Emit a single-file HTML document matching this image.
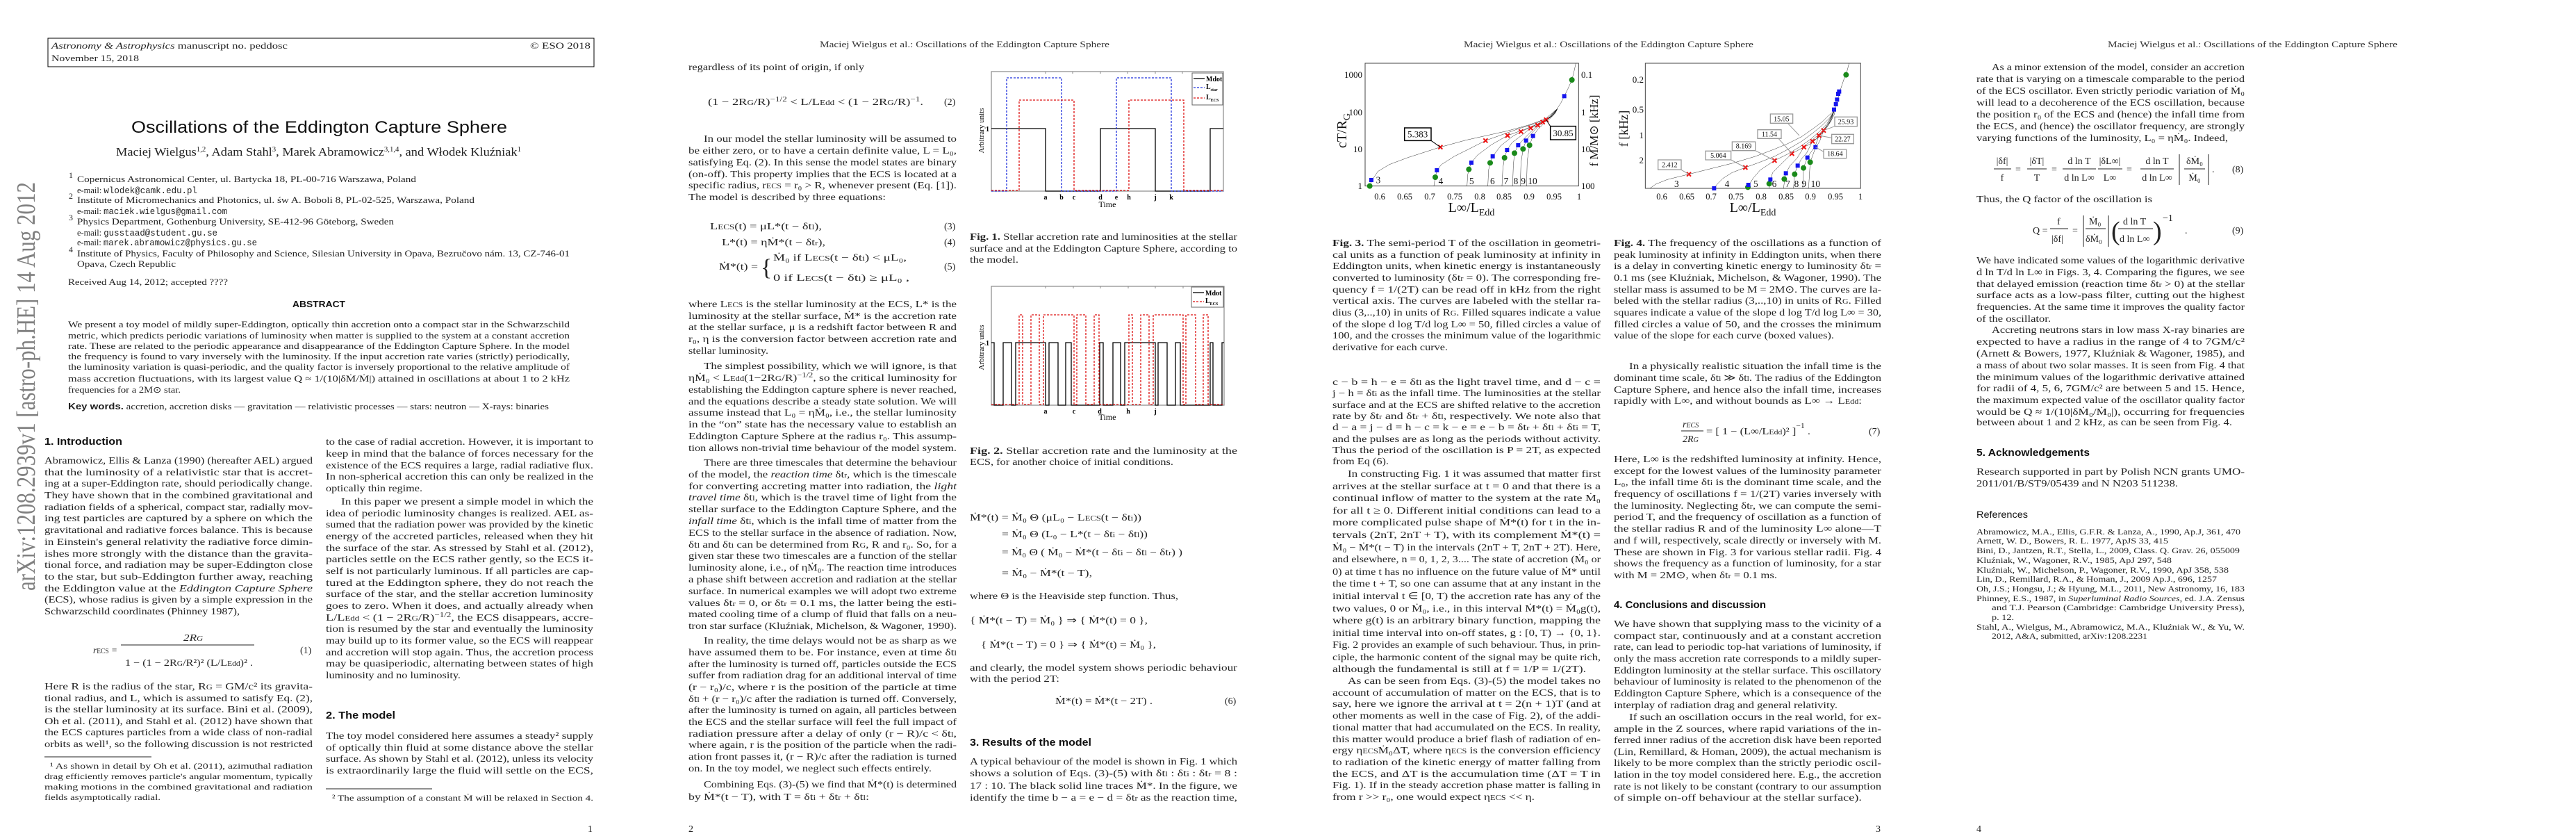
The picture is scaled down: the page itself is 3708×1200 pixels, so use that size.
<!DOCTYPE html>
<html><head><meta charset="utf-8"><style>
html,body{margin:0;padding:0;background:#fff;}
svg{display:block;}
.t{font-family:"Liberation Serif",serif;font-size:14px;fill:#222;}
.s{font-family:"Liberation Serif",serif;font-size:12.5px;fill:#222;}
.f{font-family:"Liberation Serif",serif;font-size:12px;fill:#222;}
.h{font-family:"Liberation Sans",sans-serif;font-size:15px;font-weight:bold;fill:#111;}
.rh{font-family:"Liberation Serif",serif;font-size:13px;fill:#333;}
.ax{font-family:"Liberation Serif",serif;fill:#111;}
.ln{fill:none;stroke:#000;stroke-width:1.2;vector-effect:non-scaling-stroke;}
</style></head><body>
<svg width="3708" height="1200" viewBox="0 0 3708 1200" xmlns="http://www.w3.org/2000/svg">
<rect width="3708" height="1200" fill="#fff"/>

<!-- ================= PAGE 1 ================= -->
<g>
<rect x="69" y="55" width="786" height="41" fill="none" stroke="#000" stroke-width="1"/>
<text class="s" x="74" y="70" textLength="340" lengthAdjust="spacingAndGlyphs"><tspan font-style="italic">Astronomy &amp; Astrophysics</tspan> manuscript no. peddosc</text>
<text class="s" x="763" y="70" textLength="87" lengthAdjust="spacingAndGlyphs">© ESO 2018</text>
<text class="s" x="74" y="88" textLength="126" lengthAdjust="spacingAndGlyphs">November 15, 2018</text>
<text x="189" y="191" textLength="541" lengthAdjust="spacingAndGlyphs" style="font-family:'Liberation Sans',sans-serif;font-size:24px;fill:#111">Oscillations of the Eddington Capture Sphere</text>
<text x="167" y="224" textLength="583" lengthAdjust="spacingAndGlyphs" style="font-family:'Liberation Serif',serif;font-size:17px;fill:#222">Maciej Wielgus<tspan font-size="10" dy="-6">1,2</tspan><tspan dy="6">, Adam Stahl</tspan><tspan font-size="10" dy="-6">3</tspan><tspan dy="6">, Marek Abramowicz</tspan><tspan font-size="10" dy="-6">3,1,4</tspan><tspan dy="6">, and Włodek Kluźniak</tspan><tspan font-size="10" dy="-6">1</tspan></text>
<text class="f" font-size="9" x="99" y="256">1</text>
<text class="s" x="111" y="262" textLength="488" lengthAdjust="spacingAndGlyphs">Copernicus Astronomical Center, ul. Bartycka 18, PL-00-716 Warszawa, Poland</text>
<text class="s" x="111" y="278" textLength="173" lengthAdjust="spacingAndGlyphs">e-mail: <tspan font-family="Liberation Mono">wlodek@camk.edu.pl</tspan></text>
<text class="f" font-size="9" x="99" y="286">2</text>
<text class="s" x="111" y="292" textLength="572" lengthAdjust="spacingAndGlyphs">Institute of Micromechanics and Photonics, ul. św A. Boboli 8, PL-02-525, Warszawa, Poland</text>
<text class="s" x="111" y="308" textLength="216" lengthAdjust="spacingAndGlyphs">e-mail: <tspan font-family="Liberation Mono">maciek.wielgus@gmail.com</tspan></text>
<text class="f" font-size="9" x="99" y="317">3</text>
<text class="s" x="111" y="323" textLength="456" lengthAdjust="spacingAndGlyphs">Physics Department, Gothenburg University, SE-412-96 Göteborg, Sweden</text>
<text class="s" x="111" y="339" textLength="202" lengthAdjust="spacingAndGlyphs">e-mail: <tspan font-family="Liberation Mono">gusstaad@student.gu.se</tspan></text>
<text class="s" x="111" y="353" textLength="259" lengthAdjust="spacingAndGlyphs">e-mail: <tspan font-family="Liberation Mono">marek.abramowicz@physics.gu.se</tspan></text>
<text class="f" font-size="9" x="99" y="363">4</text>
<text class="s" x="111" y="369" textLength="709" lengthAdjust="spacingAndGlyphs">Institute of Physics, Faculty of Philosophy and Science, Silesian University in Opava, Bezručovo nám. 13, CZ-746-01</text>
<text class="s" x="111" y="384" textLength="142" lengthAdjust="spacingAndGlyphs">Opava, Czech Republic</text>
<text class="s" x="98" y="410" textLength="230" lengthAdjust="spacingAndGlyphs">Received Aug 14, 2012; accepted ????</text>
<text x="421" y="442" textLength="76" lengthAdjust="spacingAndGlyphs" style="font-family:'Liberation Sans',sans-serif;font-size:13px;font-weight:bold;fill:#111">ABSTRACT</text>
<text class="s" x="98" y="471" textLength="722" lengthAdjust="spacingAndGlyphs">We present a toy model of mildly super-Eddington, optically thin accretion onto a compact star in the Schwarzschild</text>
<text class="s" x="98" y="487" textLength="722" lengthAdjust="spacingAndGlyphs">metric, which predicts periodic variations of luminosity when matter is supplied to the system at a constant accretion</text>
<text class="s" x="98" y="502" textLength="722" lengthAdjust="spacingAndGlyphs">rate. These are related to the periodic appearance and disappearance of the Eddington Capture Sphere. In the model</text>
<text class="s" x="98" y="517" textLength="722" lengthAdjust="spacingAndGlyphs">the frequency is found to vary inversely with the luminosity. If the input accretion rate varies (strictly) periodically,</text>
<text class="s" x="98" y="532" textLength="722" lengthAdjust="spacingAndGlyphs">the luminosity variation is quasi-periodic, and the quality factor is inversely proportional to the relative amplitude of</text>
<text class="s" x="98" y="549" textLength="722" lengthAdjust="spacingAndGlyphs">mass accretion fluctuations, with its largest value Q ≈ 1/(10|δṀ/Ṁ|) attained in oscillations at about 1 to 2 kHz</text>
<text class="s" x="98" y="565" textLength="162" lengthAdjust="spacingAndGlyphs">frequencies for a 2M⊙ star.</text>
<text class="s" x="98" y="589" textLength="692" lengthAdjust="spacingAndGlyphs"><tspan font-family="Liberation Sans" font-weight="bold">Key words.</tspan> accretion, accretion disks — gravitation — relativistic processes — stars: neutron — X-rays: binaries</text>

<text x="50" y="850" transform="rotate(-90 50 850)" textLength="588" lengthAdjust="spacingAndGlyphs" style="font-family:'Liberation Serif',serif;font-size:38px;fill:#808080">arXiv:1208.2939v1  [astro-ph.HE]  14 Aug 2012</text>

<text class="h" x="64" y="640" textLength="112" lengthAdjust="spacingAndGlyphs">1. Introduction</text>
<text class="t" x="64" y="667" textLength="386" lengthAdjust="spacingAndGlyphs">Abramowicz, Ellis &amp; Lanza (1990) (hereafter AEL) argued</text>
<text class="t" x="64" y="684" textLength="386" lengthAdjust="spacingAndGlyphs">that the luminosity of a relativistic star that is accret-</text>
<text class="t" x="64" y="700" textLength="386" lengthAdjust="spacingAndGlyphs">ing at a super-Eddington rate, should periodically change.</text>
<text class="t" x="64" y="717" textLength="386" lengthAdjust="spacingAndGlyphs">They have shown that in the combined gravitational and</text>
<text class="t" x="64" y="734" textLength="386" lengthAdjust="spacingAndGlyphs">radiation fields of a spherical, compact star, radially mov-</text>
<text class="t" x="64" y="750" textLength="386" lengthAdjust="spacingAndGlyphs">ing test particles are captured by a sphere on which the</text>
<text class="t" x="64" y="767" textLength="386" lengthAdjust="spacingAndGlyphs">gravitational and radiative forces balance. This is because</text>
<text class="t" x="64" y="784" textLength="386" lengthAdjust="spacingAndGlyphs">in Einstein's general relativity the radiative force dimin-</text>
<text class="t" x="64" y="801" textLength="386" lengthAdjust="spacingAndGlyphs">ishes more strongly with the distance than the gravita-</text>
<text class="t" x="64" y="817" textLength="386" lengthAdjust="spacingAndGlyphs">tional force, and radiation may be super-Eddington close</text>
<text class="t" x="64" y="834" textLength="386" lengthAdjust="spacingAndGlyphs">to the star, but sub-Eddington further away, reaching</text>
<text class="t" x="64" y="851" textLength="386" lengthAdjust="spacingAndGlyphs">the Eddington value at the <tspan font-style="italic">Eddington Capture Sphere</tspan></text>
<text class="t" x="64" y="867" textLength="386" lengthAdjust="spacingAndGlyphs">(ECS), whose radius is given by a simple expression in the</text>
<text class="t" x="64" y="884" textLength="281" lengthAdjust="spacingAndGlyphs">Schwarzschild coordinates (Phinney 1987),</text>
<text class="t" x="134" y="940" textLength="35" lengthAdjust="spacingAndGlyphs" font-style="italic">r<tspan font-size="10" font-style="normal">ECS</tspan> =</text>
<text class="t" x="264" y="922" textLength="28" lengthAdjust="spacingAndGlyphs" font-style="italic">2R<tspan font-size="10">G</tspan></text>
<line x1="174" y1="928" x2="366" y2="928" stroke="#222" stroke-width="1"/>
<text class="t" x="180" y="958" textLength="184" lengthAdjust="spacingAndGlyphs">1 − (1 − 2R<tspan font-size="10">G</tspan>/R²)² (L/L<tspan font-size="10">Edd</tspan>)² .</text>
<text class="t" x="432" y="940">(1)</text>
<text class="t" x="64" y="992" textLength="386" lengthAdjust="spacingAndGlyphs">Here R is the radius of the star, R<tspan font-size="10">G</tspan> = GM/c² its gravita-</text>
<text class="t" x="64" y="1009" textLength="386" lengthAdjust="spacingAndGlyphs">tional radius, and L, which is assumed to satisfy Eq. (2),</text>
<text class="t" x="64" y="1025" textLength="386" lengthAdjust="spacingAndGlyphs">is the stellar luminosity at its surface. Bini et al. (2009),</text>
<text class="t" x="64" y="1042" textLength="386" lengthAdjust="spacingAndGlyphs">Oh et al. (2011), and Stahl et al. (2012) have shown that</text>
<text class="t" x="64" y="1058" textLength="386" lengthAdjust="spacingAndGlyphs">the ECS captures particles from a wide class of non-radial</text>
<text class="t" x="64" y="1075" textLength="386" lengthAdjust="spacingAndGlyphs">orbits as well¹, so the following discussion is not restricted</text>
<line x1="64" y1="1089" x2="218" y2="1089" stroke="#222" stroke-width="1"/>
<text class="f" x="72" y="1106" textLength="378" lengthAdjust="spacingAndGlyphs">¹  As shown in detail by Oh et al. (2011), azimuthal radiation</text>
<text class="f" x="64" y="1121" textLength="386" lengthAdjust="spacingAndGlyphs">drag efficiently removes particle's angular momentum, typically</text>
<text class="f" x="64" y="1136" textLength="386" lengthAdjust="spacingAndGlyphs">making motions in the combined gravitational and radiation</text>
<text class="f" x="64" y="1151" textLength="167" lengthAdjust="spacingAndGlyphs">fields asymptotically radial.</text>

<text class="t" x="469" y="640" textLength="385" lengthAdjust="spacingAndGlyphs">to the case of radial accretion. However, it is important to</text>
<text class="t" x="469" y="657" textLength="385" lengthAdjust="spacingAndGlyphs">keep in mind that the balance of forces necessary for the</text>
<text class="t" x="469" y="674" textLength="385" lengthAdjust="spacingAndGlyphs">existence of the ECS requires a large, radial radiative flux.</text>
<text class="t" x="469" y="690" textLength="385" lengthAdjust="spacingAndGlyphs">In non-spherical accretion this can only be realized in the</text>
<text class="t" x="469" y="707" textLength="139" lengthAdjust="spacingAndGlyphs">optically thin regime.</text>
<text class="t" x="491" y="726" textLength="363" lengthAdjust="spacingAndGlyphs">In this paper we present a simple model in which the</text>
<text class="t" x="469" y="743" textLength="385" lengthAdjust="spacingAndGlyphs">idea of periodic luminosity changes is realized. AEL as-</text>
<text class="t" x="469" y="759" textLength="385" lengthAdjust="spacingAndGlyphs">sumed that the radiation power was provided by the kinetic</text>
<text class="t" x="469" y="776" textLength="385" lengthAdjust="spacingAndGlyphs">energy of the accreted particles, released when they hit</text>
<text class="t" x="469" y="793" textLength="385" lengthAdjust="spacingAndGlyphs">the surface of the star. As stressed by Stahl et al. (2012),</text>
<text class="t" x="469" y="809" textLength="385" lengthAdjust="spacingAndGlyphs">particles settle on the ECS rather gently, so the ECS it-</text>
<text class="t" x="469" y="826" textLength="385" lengthAdjust="spacingAndGlyphs">self is not particularly luminous. If all particles are cap-</text>
<text class="t" x="469" y="843" textLength="385" lengthAdjust="spacingAndGlyphs">tured at the Eddington sphere, they do not reach the</text>
<text class="t" x="469" y="859" textLength="385" lengthAdjust="spacingAndGlyphs">surface of the star, and the stellar accretion luminosity</text>
<text class="t" x="469" y="876" textLength="385" lengthAdjust="spacingAndGlyphs">goes to zero. When it does, and actually already when</text>
<text class="t" x="469" y="893" textLength="385" lengthAdjust="spacingAndGlyphs">L/L<tspan font-size="10">Edd</tspan> &lt; (1 − 2R<tspan font-size="10">G</tspan>/R)<tspan font-size="10" dy="-5">−1/2</tspan><tspan dy="5">, the ECS disappears, accre-</tspan></text>
<text class="t" x="469" y="909" textLength="385" lengthAdjust="spacingAndGlyphs">tion is resumed by the star and eventually the luminosity</text>
<text class="t" x="469" y="926" textLength="385" lengthAdjust="spacingAndGlyphs">may build up to its former value, so the ECS will reappear</text>
<text class="t" x="469" y="943" textLength="385" lengthAdjust="spacingAndGlyphs">and accretion will stop again. Thus, the accretion process</text>
<text class="t" x="469" y="959" textLength="385" lengthAdjust="spacingAndGlyphs">may be quasiperiodic, alternating between states of high</text>
<text class="t" x="469" y="976" textLength="194" lengthAdjust="spacingAndGlyphs">luminosity and no luminosity.</text>
<text class="h" x="469" y="1034" textLength="100" lengthAdjust="spacingAndGlyphs">2. The model</text>
<text class="t" x="469" y="1063" textLength="385" lengthAdjust="spacingAndGlyphs">The toy model considered here assumes a steady² supply</text>
<text class="t" x="469" y="1080" textLength="385" lengthAdjust="spacingAndGlyphs">of optically thin fluid at some distance above the stellar</text>
<text class="t" x="469" y="1096" textLength="385" lengthAdjust="spacingAndGlyphs">surface. As shown by Stahl et al. (2012), unless its velocity</text>
<text class="t" x="469" y="1113" textLength="385" lengthAdjust="spacingAndGlyphs">is extraordinarily large the fluid will settle on the ECS,</text>
<line x1="469" y1="1135" x2="622" y2="1135" stroke="#222" stroke-width="1"/>
<text class="f" x="478" y="1152" textLength="376" lengthAdjust="spacingAndGlyphs">²  The assumption of a constant Ṁ will be relaxed in Section 4.</text>
<text class="t" x="846" y="1197">1</text>
</g>

<!-- ================= PAGE 2 ================= -->
<g transform="translate(927,0)">
<text class="rh" x="253" y="68" textLength="417" lengthAdjust="spacingAndGlyphs">Maciej Wielgus et al.: Oscillations of the Eddington Capture Sphere</text>
<text class="t" x="64" y="101" textLength="253" lengthAdjust="spacingAndGlyphs">regardless of its point of origin, if only</text>
<text class="t" x="92" y="151" textLength="310" lengthAdjust="spacingAndGlyphs">(1 − 2R<tspan font-size="10">G</tspan>/R)<tspan font-size="10" dy="-5">−1/2</tspan><tspan dy="5"> &lt; L/L</tspan><tspan font-size="10">Edd</tspan> &lt; (1 − 2R<tspan font-size="10">G</tspan>/R)<tspan font-size="10" dy="-5">−1</tspan><tspan dy="5">.</tspan></text>
<text class="t" x="432" y="151">(2)</text>
<text class="t" x="86" y="204" textLength="364" lengthAdjust="spacingAndGlyphs">In our model the stellar luminosity will be assumed to</text>
<text class="t" x="64" y="221" textLength="386" lengthAdjust="spacingAndGlyphs">be either zero, or to have a certain definite value, L = L₀,</text>
<text class="t" x="64" y="238" textLength="386" lengthAdjust="spacingAndGlyphs">satisfying Eq. (2). In this sense the model states are binary</text>
<text class="t" x="64" y="255" textLength="386" lengthAdjust="spacingAndGlyphs">(on-off). This property implies that the ECS is located at a</text>
<text class="t" x="64" y="271" textLength="386" lengthAdjust="spacingAndGlyphs">specific radius, r<tspan font-size="10">ECS</tspan> = r₀ &gt; R, whenever present (Eq. [1]).</text>
<text class="t" x="64" y="288" textLength="284" lengthAdjust="spacingAndGlyphs">The model is described by three equations:</text>
<text class="t" x="95" y="330" textLength="161" lengthAdjust="spacingAndGlyphs">L<tspan font-size="10">ECS</tspan>(t)  =  μL*(t − δt<tspan font-size="10">l</tspan>),</text>
<text class="t" x="432" y="330">(3)</text>
<text class="t" x="112" y="353" textLength="149" lengthAdjust="spacingAndGlyphs">L*(t)  =  ηṀ*(t − δt<tspan font-size="10">r</tspan>),</text>
<text class="t" x="432" y="353">(4)</text>
<text class="t" x="108" y="388" textLength="56" lengthAdjust="spacingAndGlyphs">Ṁ*(t)  =</text>
<text x="168" y="396" style="font-family:'Liberation Serif',serif;font-size:34px;fill:#222">{</text>
<text class="t" x="186" y="375" textLength="192" lengthAdjust="spacingAndGlyphs">Ṁ₀   if  L<tspan font-size="10">ECS</tspan>(t − δt<tspan font-size="10">i</tspan>) &lt; μL₀,</text>
<text class="t" x="186" y="404" textLength="196" lengthAdjust="spacingAndGlyphs">0     if  L<tspan font-size="10">ECS</tspan>(t − δt<tspan font-size="10">i</tspan>) ≥ μL₀ ,</text>
<text class="t" x="432" y="388">(5)</text>
<text class="t" x="64" y="442" textLength="386" lengthAdjust="spacingAndGlyphs">where L<tspan font-size="10">ECS</tspan> is the stellar luminosity at the ECS, L* is the</text>
<text class="t" x="64" y="459" textLength="386" lengthAdjust="spacingAndGlyphs">luminosity at the stellar surface, Ṁ* is the accretion rate</text>
<text class="t" x="64" y="475" textLength="386" lengthAdjust="spacingAndGlyphs">at the stellar surface, μ is a redshift factor between R and</text>
<text class="t" x="64" y="492" textLength="386" lengthAdjust="spacingAndGlyphs">r₀, η is the conversion factor between accretion rate and</text>
<text class="t" x="64" y="509" textLength="115" lengthAdjust="spacingAndGlyphs">stellar luminosity.</text>
<text class="t" x="86" y="531" textLength="364" lengthAdjust="spacingAndGlyphs">The simplest possibility, which we will ignore, is that</text>
<text class="t" x="64" y="548" textLength="386" lengthAdjust="spacingAndGlyphs">ηṀ₀ &lt; L<tspan font-size="10">Edd</tspan>(1−2R<tspan font-size="10">G</tspan>/R)<tspan font-size="10" dy="-5">−1/2</tspan><tspan dy="5">, so the critical luminosity for</tspan></text>
<text class="t" x="64" y="565" textLength="386" lengthAdjust="spacingAndGlyphs">establishing the Eddington capture sphere is never reached,</text>
<text class="t" x="64" y="582" textLength="386" lengthAdjust="spacingAndGlyphs">and the equations describe a steady state solution. We will</text>
<text class="t" x="64" y="598" textLength="386" lengthAdjust="spacingAndGlyphs">assume instead that L₀ = ηṀ₀, i.e., the stellar luminosity</text>
<text class="t" x="64" y="615" textLength="386" lengthAdjust="spacingAndGlyphs">in the “on” state has the necessary value to establish an</text>
<text class="t" x="64" y="632" textLength="386" lengthAdjust="spacingAndGlyphs">Eddington Capture Sphere at the radius r₀. This assump-</text>
<text class="t" x="64" y="649" textLength="386" lengthAdjust="spacingAndGlyphs">tion allows non-trivial time behaviour of the model system.</text>
<text class="t" x="86" y="670" textLength="364" lengthAdjust="spacingAndGlyphs">There are three timescales that determine the behaviour</text>
<text class="t" x="64" y="687" textLength="386" lengthAdjust="spacingAndGlyphs">of the model, the <tspan font-style="italic">reaction time</tspan> δt<tspan font-size="10">r</tspan>, which is the timescale</text>
<text class="t" x="64" y="704" textLength="386" lengthAdjust="spacingAndGlyphs">for converting accreting matter into radiation, the <tspan font-style="italic">light</tspan></text>
<text class="t" x="64" y="720" textLength="386" lengthAdjust="spacingAndGlyphs"><tspan font-style="italic">travel time</tspan> δt<tspan font-size="10">l</tspan>, which is the travel time of light from the</text>
<text class="t" x="64" y="737" textLength="386" lengthAdjust="spacingAndGlyphs">stellar surface to the Eddington Capture Sphere, and the</text>
<text class="t" x="64" y="754" textLength="386" lengthAdjust="spacingAndGlyphs"><tspan font-style="italic">infall time</tspan> δt<tspan font-size="10">i</tspan>, which is the infall time of matter from the</text>
<text class="t" x="64" y="771" textLength="386" lengthAdjust="spacingAndGlyphs">ECS to the stellar surface in the absence of radiation. Now,</text>
<text class="t" x="64" y="788" textLength="386" lengthAdjust="spacingAndGlyphs">δt<tspan font-size="10">l</tspan> and δt<tspan font-size="10">i</tspan> can be determined from R<tspan font-size="10">G</tspan>, R and r₀. So, for a</text>
<text class="t" x="64" y="804" textLength="386" lengthAdjust="spacingAndGlyphs">given star these two timescales are a function of the stellar</text>
<text class="t" x="64" y="821" textLength="386" lengthAdjust="spacingAndGlyphs">luminosity alone, i.e., of ηṀ₀. The reaction time introduces</text>
<text class="t" x="64" y="838" textLength="386" lengthAdjust="spacingAndGlyphs">a phase shift between accretion and radiation at the stellar</text>
<text class="t" x="64" y="855" textLength="386" lengthAdjust="spacingAndGlyphs">surface. In numerical examples we will adopt two extreme</text>
<text class="t" x="64" y="872" textLength="386" lengthAdjust="spacingAndGlyphs">values δt<tspan font-size="10">r</tspan> = 0, or δt<tspan font-size="10">r</tspan> = 0.1 ms, the latter being the esti-</text>
<text class="t" x="64" y="888" textLength="386" lengthAdjust="spacingAndGlyphs">mated cooling time of a clump of fluid that falls on a neu-</text>
<text class="t" x="64" y="905" textLength="386" lengthAdjust="spacingAndGlyphs">tron star surface (Kluźniak, Michelson, &amp; Wagoner, 1990).</text>
<text class="t" x="86" y="926" textLength="364" lengthAdjust="spacingAndGlyphs">In reality, the time delays would not be as sharp as we</text>
<text class="t" x="64" y="943" textLength="386" lengthAdjust="spacingAndGlyphs">have assumed them to be. For instance, even at time δt<tspan font-size="10">l</tspan></text>
<text class="t" x="64" y="960" textLength="386" lengthAdjust="spacingAndGlyphs">after the luminosity is turned off, particles outside the ECS</text>
<text class="t" x="64" y="976" textLength="386" lengthAdjust="spacingAndGlyphs">suffer from radiation drag for an additional interval of time</text>
<text class="t" x="64" y="993" textLength="386" lengthAdjust="spacingAndGlyphs">(r − r₀)/c, where r is the position of the particle at time</text>
<text class="t" x="64" y="1010" textLength="386" lengthAdjust="spacingAndGlyphs">δt<tspan font-size="10">l</tspan> + (r − r₀)/c after the radiation is turned off. Conversely,</text>
<text class="t" x="64" y="1026" textLength="386" lengthAdjust="spacingAndGlyphs">after the luminosity is turned on again, all particles between</text>
<text class="t" x="64" y="1043" textLength="386" lengthAdjust="spacingAndGlyphs">the ECS and the stellar surface will feel the full impact of</text>
<text class="t" x="64" y="1060" textLength="386" lengthAdjust="spacingAndGlyphs">radiation pressure after a delay of only (r − R)/c &lt; δt<tspan font-size="10">l</tspan>,</text>
<text class="t" x="64" y="1076" textLength="386" lengthAdjust="spacingAndGlyphs">where again, r is the position of the particle when the radi-</text>
<text class="t" x="64" y="1093" textLength="386" lengthAdjust="spacingAndGlyphs">ation front passes it, (r − R)/c after the radiation is turned</text>
<text class="t" x="64" y="1110" textLength="350" lengthAdjust="spacingAndGlyphs">on. In the toy model, we neglect such effects entirely.</text>
<text class="t" x="86" y="1133" textLength="364" lengthAdjust="spacingAndGlyphs">Combining Eqs. (3)-(5) we find that Ṁ*(t) is determined</text>
<text class="t" x="64" y="1151" textLength="260" lengthAdjust="spacingAndGlyphs">by Ṁ*(t − T), with T = δt<tspan font-size="10">i</tspan> + δt<tspan font-size="10">r</tspan> + δt<tspan font-size="10">l</tspan>:</text>
<text class="t" x="64" y="1197">2</text>

<text class="t" x="469" y="345" textLength="385" lengthAdjust="spacingAndGlyphs"><tspan font-weight="bold">Fig. 1.</tspan> Stellar accretion rate and luminosities at the stellar</text>
<text class="t" x="469" y="362" textLength="385" lengthAdjust="spacingAndGlyphs">surface and at the Eddington Capture Sphere, according to</text>
<text class="t" x="469" y="378" textLength="70" lengthAdjust="spacingAndGlyphs">the model.</text>
<text class="t" x="469" y="653" textLength="385" lengthAdjust="spacingAndGlyphs"><tspan font-weight="bold">Fig. 2.</tspan> Stellar accretion rate and the luminosity at the</text>
<text class="t" x="469" y="669" textLength="293" lengthAdjust="spacingAndGlyphs">ECS, for another choice of initial conditions.</text>
<text class="t" x="469" y="749" textLength="247" lengthAdjust="spacingAndGlyphs">Ṁ*(t)  =  Ṁ₀ Θ (μL₀ − L<tspan font-size="10">ECS</tspan>(t − δt<tspan font-size="10">i</tspan>))</text>
<text class="t" x="515" y="773" textLength="210" lengthAdjust="spacingAndGlyphs">=  Ṁ₀ Θ (L₀ − L*(t − δt<tspan font-size="10">i</tspan> − δt<tspan font-size="10">l</tspan>))</text>
<text class="t" x="515" y="799" textLength="260" lengthAdjust="spacingAndGlyphs">=  Ṁ₀ Θ ( Ṁ₀ − Ṁ*(t − δt<tspan font-size="10">i</tspan> − δt<tspan font-size="10">l</tspan> − δt<tspan font-size="10">r</tspan>) )</text>
<text class="t" x="515" y="829" textLength="130" lengthAdjust="spacingAndGlyphs">=  Ṁ₀ − Ṁ*(t − T),</text>
<text class="t" x="469" y="862" textLength="300" lengthAdjust="spacingAndGlyphs">where Θ is the Heaviside step function. Thus,</text>
<text class="t" x="469" y="897" textLength="256" lengthAdjust="spacingAndGlyphs">{ Ṁ*(t − T) = Ṁ₀ }  ⇒  { Ṁ*(t) = 0 },</text>
<text class="t" x="485" y="932" textLength="252" lengthAdjust="spacingAndGlyphs">{ Ṁ*(t − T) = 0 }  ⇒  { Ṁ*(t) = Ṁ₀ },</text>
<text class="t" x="469" y="965" textLength="385" lengthAdjust="spacingAndGlyphs">and clearly, the model system shows periodic behaviour</text>
<text class="t" x="469" y="981" textLength="129" lengthAdjust="spacingAndGlyphs">with the period 2T:</text>
<text class="t" x="592" y="1013" textLength="140" lengthAdjust="spacingAndGlyphs">Ṁ*(t) = Ṁ*(t − 2T) .</text>
<text class="t" x="836" y="1013">(6)</text>
<text class="h" x="469" y="1073" textLength="175" lengthAdjust="spacingAndGlyphs">3. Results of the model</text>
<text class="t" x="469" y="1100" textLength="385" lengthAdjust="spacingAndGlyphs">A typical behaviour of the model is shown in Fig. 1 which</text>
<text class="t" x="469" y="1117" textLength="385" lengthAdjust="spacingAndGlyphs">shows a solution of Eqs. (3)-(5) with δt<tspan font-size="10">l</tspan> : δt<tspan font-size="10">i</tspan> : δt<tspan font-size="10">r</tspan> = 8 :</text>
<text class="t" x="469" y="1135" textLength="385" lengthAdjust="spacingAndGlyphs">17 : 10. The black solid line traces Ṁ*. In the figure, we</text>
<text class="t" x="469" y="1152" textLength="385" lengthAdjust="spacingAndGlyphs">identify the time b − a = e − d = δt<tspan font-size="10">r</tspan> as the reaction time,</text>
</g>

<!-- Fig 1 -->
<g>
<rect x="1427" y="103" width="334" height="172" fill="#fff" stroke="#888" stroke-width="1.2"/>
<g stroke="#888" stroke-width="1">
<line x1="1505" y1="103" x2="1505" y2="106"/><line x1="1544" y1="103" x2="1544" y2="106"/><line x1="1584" y1="103" x2="1584" y2="106"/><line x1="1623" y1="103" x2="1623" y2="106"/><line x1="1663" y1="103" x2="1663" y2="106"/><line x1="1702" y1="103" x2="1702" y2="106"/>
</g>
<path d="M1427,185 H1505 V275 H1584 V185 H1663 V275 H1742 V185 H1761" fill="none" stroke="#000" stroke-width="1.3"/>
<path d="M1427,275 H1449 V112 H1528 V275 H1607 V112 H1686 V275 H1761" fill="none" stroke="#2233dd" stroke-width="1.3" stroke-dasharray="3,2"/>
<path d="M1427,274 H1467 V144 H1546 V274 H1625 V144 H1704 V274 H1761" fill="none" stroke="#dd1111" stroke-width="1.3" stroke-dasharray="3,2"/>
<rect x="1716" y="105" width="44" height="46" fill="#fff" stroke="#666" stroke-width="1"/>
<line x1="1718" y1="113" x2="1734" y2="113" stroke="#000" stroke-width="1.3"/>
<text x="1736" y="117" style="font-family:'Liberation Serif',serif;font-size:10px;font-weight:bold">Mdot</text>
<line x1="1718" y1="126" x2="1734" y2="126" stroke="#2233dd" stroke-width="1.3" stroke-dasharray="3,2"/>
<text x="1736" y="128" style="font-family:'Liberation Serif',serif;font-size:10px;font-weight:bold">L<tspan font-size="6" dy="3">star</tspan></text>
<line x1="1718" y1="141" x2="1734" y2="141" stroke="#dd1111" stroke-width="1.3" stroke-dasharray="3,2"/>
<text x="1736" y="143" style="font-family:'Liberation Serif',serif;font-size:10px;font-weight:bold">L<tspan font-size="6" dy="3">ECS</tspan></text>
<text x="1416" y="188" transform="rotate(-90 1416 188)" text-anchor="middle" style="font-family:'Liberation Serif',serif;font-size:11px">Arbitrary units</text>
<text x="1419" y="189" style="font-family:'Liberation Serif',serif;font-size:10px;font-weight:bold">1</text>
<g style="font-family:'Liberation Serif',serif;font-size:10px;font-weight:bold" text-anchor="middle">
<text x="1505" y="287">a</text><text x="1528" y="287">b</text><text x="1546" y="287">c</text><text x="1584" y="287">d</text><text x="1607" y="287">e</text><text x="1625" y="287">h</text><text x="1663" y="287">j</text><text x="1686" y="287">k</text>
</g>
<text x="1594" y="298" text-anchor="middle" style="font-family:'Liberation Serif',serif;font-size:12px">Time</text>
</g>

<!-- Fig 2 -->
<g>
<rect x="1427" y="412" width="335" height="171" fill="#fff" stroke="#888" stroke-width="1.2"/>
<g stroke="#888" stroke-width="1">
<line x1="1505" y1="412" x2="1505" y2="415"/><line x1="1545" y1="412" x2="1545" y2="415"/><line x1="1584" y1="412" x2="1584" y2="415"/><line x1="1624" y1="412" x2="1624" y2="415"/><line x1="1663" y1="412" x2="1663" y2="415"/><line x1="1703" y1="412" x2="1703" y2="415"/>
</g>
<path d="M1427,493 H1431 V583 H1444 V493 H1456 V583 H1462 V493 H1505 V583 H1510 V493 H1523 V583 H1534 V493 H1542 V583 H1583 V493 H1588 V583 H1602 V493 H1613 V583 H1619 V493 H1663 V583 H1667 V493 H1680 V583 H1692 V493 H1699 V583 H1742 V493 H1746 V583 H1759 V493 H1762" fill="none" stroke="#000" stroke-width="1.3"/>
<path d="M1427,582 H1467 V453 H1472 V582 H1484 V453 H1496 V582 H1502 V453 H1546 V582 H1550 V453 H1563 V582 H1575 V453 H1582 V582 H1625 V453 H1630 V582 H1642 V453 H1654 V582 H1660 V453 H1703 V582 H1707 V453 H1721 V582 H1732 V453 H1739 V582 H1762" fill="none" stroke="#dd1111" stroke-width="1.3" stroke-dasharray="3,2"/>
<rect x="1715" y="413" width="46" height="29" fill="#fff" stroke="#666" stroke-width="1"/>
<line x1="1717" y1="421" x2="1733" y2="421" stroke="#000" stroke-width="1.3"/>
<text x="1735" y="425" style="font-family:'Liberation Serif',serif;font-size:10px;font-weight:bold">Mdot</text>
<line x1="1717" y1="434" x2="1733" y2="434" stroke="#dd1111" stroke-width="1.3" stroke-dasharray="3,2"/>
<text x="1735" y="436" style="font-family:'Liberation Serif',serif;font-size:10px;font-weight:bold">L<tspan font-size="6" dy="3">ECS</tspan></text>
<text x="1416" y="500" transform="rotate(-90 1416 500)" text-anchor="middle" style="font-family:'Liberation Serif',serif;font-size:11px">Arbitrary units</text>
<text x="1419" y="497" style="font-family:'Liberation Serif',serif;font-size:10px;font-weight:bold">1</text>
<g style="font-family:'Liberation Serif',serif;font-size:10px;font-weight:bold" text-anchor="middle">
<text x="1505" y="595">a</text><text x="1546" y="595">c</text><text x="1583" y="595">d</text><text x="1624" y="595">h</text><text x="1663" y="595">j</text>
</g>
<text x="1594" y="604" text-anchor="middle" style="font-family:'Liberation Serif',serif;font-size:12px">Time</text>
</g>

<!-- ================= PAGE 3 ================= -->
<g transform="translate(1854,0)">
<text class="rh" x="253" y="68" textLength="417" lengthAdjust="spacingAndGlyphs">Maciej Wielgus et al.: Oscillations of the Eddington Capture Sphere</text>
<text class="t" x="64" y="354" textLength="386" lengthAdjust="spacingAndGlyphs"><tspan font-weight="bold">Fig. 3.</tspan> The semi-period T of the oscillation in geometri-</text>
<text class="t" x="64" y="371" textLength="386" lengthAdjust="spacingAndGlyphs">cal units as a function of peak luminosity at infinity in</text>
<text class="t" x="64" y="387" textLength="386" lengthAdjust="spacingAndGlyphs">Eddington units, when kinetic energy is instantaneously</text>
<text class="t" x="64" y="404" textLength="386" lengthAdjust="spacingAndGlyphs">converted to luminosity (δt<tspan font-size="10">r</tspan> = 0). The corresponding fre-</text>
<text class="t" x="64" y="421" textLength="386" lengthAdjust="spacingAndGlyphs">quency f = 1/(2T) can be read off in kHz from the right</text>
<text class="t" x="64" y="437" textLength="386" lengthAdjust="spacingAndGlyphs">vertical axis. The curves are labeled with the stellar ra-</text>
<text class="t" x="64" y="454" textLength="386" lengthAdjust="spacingAndGlyphs">dius (3,..,10) in units of R<tspan font-size="10">G</tspan>. Filled squares indicate a value</text>
<text class="t" x="64" y="471" textLength="386" lengthAdjust="spacingAndGlyphs">of the slope d log T/d log L∞ = 50, filled circles a value of</text>
<text class="t" x="64" y="487" textLength="386" lengthAdjust="spacingAndGlyphs">100, and the crosses the minimum value of the logarithmic</text>
<text class="t" x="64" y="504" textLength="166" lengthAdjust="spacingAndGlyphs">derivative for each curve.</text>
<text class="t" x="469" y="354" textLength="385" lengthAdjust="spacingAndGlyphs"><tspan font-weight="bold">Fig. 4.</tspan> The frequency of the oscillations as a function of</text>
<text class="t" x="469" y="371" textLength="385" lengthAdjust="spacingAndGlyphs">peak luminosity at infinity in Eddington units, when there</text>
<text class="t" x="469" y="387" textLength="385" lengthAdjust="spacingAndGlyphs">is a delay in converting kinetic energy to luminosity δt<tspan font-size="10">r</tspan> =</text>
<text class="t" x="469" y="404" textLength="385" lengthAdjust="spacingAndGlyphs">0.1 ms  (see  Kluźniak, Michelson, &amp; Wagoner, 1990).  The</text>
<text class="t" x="469" y="421" textLength="385" lengthAdjust="spacingAndGlyphs">stellar mass is assumed to be M = 2M⊙. The curves are la-</text>
<text class="t" x="469" y="437" textLength="385" lengthAdjust="spacingAndGlyphs">beled with the stellar radius (3,..,10) in units of R<tspan font-size="10">G</tspan>. Filled</text>
<text class="t" x="469" y="454" textLength="385" lengthAdjust="spacingAndGlyphs">squares indicate a value of the slope d log T/d log L∞ = 30,</text>
<text class="t" x="469" y="471" textLength="385" lengthAdjust="spacingAndGlyphs">filled circles a value of 50, and the crosses the minimum</text>
<text class="t" x="469" y="487" textLength="317" lengthAdjust="spacingAndGlyphs">value of the slope for each curve (boxed values).</text>

<text class="t" x="64" y="554" textLength="386" lengthAdjust="spacingAndGlyphs">c − b = h − e = δt<tspan font-size="10">l</tspan> as the light travel time, and d − c =</text>
<text class="t" x="64" y="570" textLength="386" lengthAdjust="spacingAndGlyphs">j − h = δt<tspan font-size="10">i</tspan> as the infall time. The luminosities at the stellar</text>
<text class="t" x="64" y="587" textLength="386" lengthAdjust="spacingAndGlyphs">surface and at the ECS are shifted relative to the accretion</text>
<text class="t" x="64" y="603" textLength="386" lengthAdjust="spacingAndGlyphs">rate by δt<tspan font-size="10">r</tspan> and δt<tspan font-size="10">r</tspan> + δt<tspan font-size="10">l</tspan>, respectively. We note also that</text>
<text class="t" x="64" y="619" textLength="386" lengthAdjust="spacingAndGlyphs">d − a = j − d = h − c = k − e = e − b = δt<tspan font-size="10">r</tspan> + δt<tspan font-size="10">l</tspan> + δt<tspan font-size="10">i</tspan> = T,</text>
<text class="t" x="64" y="636" textLength="386" lengthAdjust="spacingAndGlyphs">and the pulses are as long as the periods without activity.</text>
<text class="t" x="64" y="652" textLength="386" lengthAdjust="spacingAndGlyphs">Thus the period of the oscillation is P = 2T, as expected</text>
<text class="t" x="64" y="668" textLength="81" lengthAdjust="spacingAndGlyphs">from Eq (6).</text>
<text class="t" x="86" y="686" textLength="364" lengthAdjust="spacingAndGlyphs">In constructing Fig. 1 it was assumed that matter first</text>
<text class="t" x="64" y="704" textLength="386" lengthAdjust="spacingAndGlyphs">arrives at the stellar surface at t = 0 and that there is a</text>
<text class="t" x="64" y="721" textLength="386" lengthAdjust="spacingAndGlyphs">continual inflow of matter to the system at the rate Ṁ₀</text>
<text class="t" x="64" y="739" textLength="386" lengthAdjust="spacingAndGlyphs">for all t ≥ 0. Different initial conditions can lead to a</text>
<text class="t" x="64" y="756" textLength="386" lengthAdjust="spacingAndGlyphs">more complicated pulse shape of Ṁ*(t) for t in the in-</text>
<text class="t" x="64" y="774" textLength="386" lengthAdjust="spacingAndGlyphs">tervals (2nT, 2nT + T), with its complement Ṁ*(t) =</text>
<text class="t" x="64" y="792" textLength="386" lengthAdjust="spacingAndGlyphs">Ṁ₀ − Ṁ*(t − T) in the intervals (2nT + T, 2nT + 2T). Here,</text>
<text class="t" x="64" y="809" textLength="386" lengthAdjust="spacingAndGlyphs">and elsewhere, n = 0, 1, 2, 3.... The state of accretion (Ṁ₀ or</text>
<text class="t" x="64" y="827" textLength="386" lengthAdjust="spacingAndGlyphs">0) at time t has no influence on the future value of Ṁ* until</text>
<text class="t" x="64" y="844" textLength="386" lengthAdjust="spacingAndGlyphs">the time t + T, so one can assume that at any instant in the</text>
<text class="t" x="64" y="862" textLength="386" lengthAdjust="spacingAndGlyphs">initial interval t ∈ [0, T) the accretion rate has any of the</text>
<text class="t" x="64" y="880" textLength="386" lengthAdjust="spacingAndGlyphs">two values, 0 or Ṁ₀, i.e., in this interval Ṁ*(t) = Ṁ₀g(t),</text>
<text class="t" x="64" y="897" textLength="386" lengthAdjust="spacingAndGlyphs">where g(t) is an arbitrary binary function, mapping the</text>
<text class="t" x="64" y="915" textLength="386" lengthAdjust="spacingAndGlyphs">initial time interval into on-off states, g : [0, T) → {0, 1}.</text>
<text class="t" x="64" y="932" textLength="386" lengthAdjust="spacingAndGlyphs">Fig. 2 provides an example of such behaviour. Thus, in prin-</text>
<text class="t" x="64" y="950" textLength="386" lengthAdjust="spacingAndGlyphs">ciple, the harmonic content of the signal may be quite rich,</text>
<text class="t" x="64" y="967" textLength="365" lengthAdjust="spacingAndGlyphs">although the fundamental is still at f = 1/P = 1/(2T).</text>
<text class="t" x="86" y="984" textLength="364" lengthAdjust="spacingAndGlyphs">As can be seen from Eqs.  (3)-(5) the model takes no</text>
<text class="t" x="64" y="1001" textLength="386" lengthAdjust="spacingAndGlyphs">account of accumulation of matter on the ECS, that is to</text>
<text class="t" x="64" y="1017" textLength="386" lengthAdjust="spacingAndGlyphs">say, here we ignore the arrival at t = 2(n + 1)T (and at</text>
<text class="t" x="64" y="1034" textLength="386" lengthAdjust="spacingAndGlyphs">other moments as well in the case of Fig. 2), of the addi-</text>
<text class="t" x="64" y="1051" textLength="386" lengthAdjust="spacingAndGlyphs">tional matter that had accumulated on the ECS. In reality,</text>
<text class="t" x="64" y="1068" textLength="386" lengthAdjust="spacingAndGlyphs">this matter would produce a brief flash of radiation of en-</text>
<text class="t" x="64" y="1084" textLength="386" lengthAdjust="spacingAndGlyphs">ergy η<tspan font-size="10">ECS</tspan>Ṁ₀ΔT, where η<tspan font-size="10">ECS</tspan> is the conversion efficiency</text>
<text class="t" x="64" y="1101" textLength="386" lengthAdjust="spacingAndGlyphs">to radiation of the kinetic energy of matter falling from</text>
<text class="t" x="64" y="1118" textLength="386" lengthAdjust="spacingAndGlyphs">the ECS, and ΔT is the accumulation time (ΔT = T in</text>
<text class="t" x="64" y="1134" textLength="386" lengthAdjust="spacingAndGlyphs">Fig. 1). If in the steady accretion phase matter is falling in</text>
<text class="t" x="64" y="1151" textLength="291" lengthAdjust="spacingAndGlyphs">from r &gt;&gt; r₀, one would expect η<tspan font-size="10">ECS</tspan> &lt;&lt; η.</text>

<text class="t" x="491" y="531" textLength="363" lengthAdjust="spacingAndGlyphs">In a physically realistic situation the infall time is the</text>
<text class="t" x="469" y="548" textLength="385" lengthAdjust="spacingAndGlyphs">dominant time scale, δt<tspan font-size="10">i</tspan> ≫ δt<tspan font-size="10">l</tspan>. The radius of the Eddington</text>
<text class="t" x="469" y="565" textLength="385" lengthAdjust="spacingAndGlyphs">Capture Sphere, and hence also the infall time, increases</text>
<text class="t" x="469" y="581" textLength="357" lengthAdjust="spacingAndGlyphs">rapidly with L∞, and without bounds as L∞ → L<tspan font-size="10">Edd</tspan>:</text>
<text class="t" x="568" y="615" font-style="italic">r<tspan font-size="10">ECS</tspan></text>
<line x1="566" y1="620" x2="598" y2="620" stroke="#222"/>
<text class="t" x="568" y="636" font-style="italic">2R<tspan font-size="10">G</tspan></text>
<text class="t" x="602" y="625" textLength="150" lengthAdjust="spacingAndGlyphs">=  [ 1 − (L∞/L<tspan font-size="10">Edd</tspan>)² ]<tspan font-size="10" dy="-9">−1</tspan><tspan dy="9">  .</tspan></text>
<text class="t" x="836" y="625">(7)</text>
<text class="t" x="469" y="665" textLength="385" lengthAdjust="spacingAndGlyphs">Here, L∞ is the redshifted luminosity at infinity. Hence,</text>
<text class="t" x="469" y="682" textLength="385" lengthAdjust="spacingAndGlyphs">except for the lowest values of the luminosity parameter</text>
<text class="t" x="469" y="698" textLength="385" lengthAdjust="spacingAndGlyphs">L₀, the infall time δt<tspan font-size="10">i</tspan> is the dominant time scale, and the</text>
<text class="t" x="469" y="715" textLength="385" lengthAdjust="spacingAndGlyphs">frequency of oscillations f = 1/(2T) varies inversely with</text>
<text class="t" x="469" y="732" textLength="385" lengthAdjust="spacingAndGlyphs">the luminosity. Neglecting δt<tspan font-size="10">r</tspan>, we can compute the semi-</text>
<text class="t" x="469" y="748" textLength="385" lengthAdjust="spacingAndGlyphs">period T, and the frequency of oscillation as a function of</text>
<text class="t" x="469" y="765" textLength="385" lengthAdjust="spacingAndGlyphs">the stellar radius R and of the luminosity L∞ alone—T</text>
<text class="t" x="469" y="782" textLength="385" lengthAdjust="spacingAndGlyphs">and f will, respectively, scale directly or inversely with M.</text>
<text class="t" x="469" y="799" textLength="385" lengthAdjust="spacingAndGlyphs">These are shown in Fig. 3 for various stellar radii. Fig. 4</text>
<text class="t" x="469" y="815" textLength="385" lengthAdjust="spacingAndGlyphs">shows the frequency as a function of luminosity, for a star</text>
<text class="t" x="469" y="832" textLength="235" lengthAdjust="spacingAndGlyphs">with M = 2M⊙, when δt<tspan font-size="10">r</tspan> = 0.1 ms.</text>
<text class="h" x="469" y="875" textLength="219" lengthAdjust="spacingAndGlyphs">4. Conclusions and discussion</text>
<text class="t" x="469" y="902" textLength="385" lengthAdjust="spacingAndGlyphs">We have shown that supplying mass to the vicinity of a</text>
<text class="t" x="469" y="919" textLength="385" lengthAdjust="spacingAndGlyphs">compact star, continuously and at a constant accretion</text>
<text class="t" x="469" y="935" textLength="385" lengthAdjust="spacingAndGlyphs">rate, can lead to periodic top-hat variations of luminosity, if</text>
<text class="t" x="469" y="952" textLength="385" lengthAdjust="spacingAndGlyphs">only the mass accretion rate corresponds to a mildly super-</text>
<text class="t" x="469" y="969" textLength="385" lengthAdjust="spacingAndGlyphs">Eddington luminosity at the stellar surface. This oscillatory</text>
<text class="t" x="469" y="985" textLength="385" lengthAdjust="spacingAndGlyphs">behaviour of luminosity is related to the phenomenon of the</text>
<text class="t" x="469" y="1002" textLength="385" lengthAdjust="spacingAndGlyphs">Eddington Capture Sphere, which is a consequence of the</text>
<text class="t" x="469" y="1019" textLength="322" lengthAdjust="spacingAndGlyphs">interplay of radiation drag and general relativity.</text>
<text class="t" x="491" y="1036" textLength="363" lengthAdjust="spacingAndGlyphs">If such an oscillation occurs in the real world, for ex-</text>
<text class="t" x="469" y="1053" textLength="385" lengthAdjust="spacingAndGlyphs">ample in the Z sources, where rapid variations of the in-</text>
<text class="t" x="469" y="1069" textLength="385" lengthAdjust="spacingAndGlyphs">ferred inner radius of the accretion disk have been reported</text>
<text class="t" x="469" y="1086" textLength="385" lengthAdjust="spacingAndGlyphs">(Lin, Remillard, &amp; Homan, 2009), the actual mechanism is</text>
<text class="t" x="469" y="1102" textLength="385" lengthAdjust="spacingAndGlyphs">likely to be more complex than the strictly periodic oscil-</text>
<text class="t" x="469" y="1119" textLength="385" lengthAdjust="spacingAndGlyphs">lation in the toy model considered here. E.g., the accretion</text>
<text class="t" x="469" y="1136" textLength="385" lengthAdjust="spacingAndGlyphs">rate is not likely to be constant (contrary to our assumption</text>
<text class="t" x="469" y="1152" textLength="357" lengthAdjust="spacingAndGlyphs">of simple on-off behaviour at the stellar surface).</text>
<text class="t" x="846" y="1197">3</text>
</g>

<!-- Fig 3 axes labels -->
<g class="ax" style="font-size:13px" text-anchor="end">
<text x="1961" y="112">1000</text><text x="1961" y="166">100</text><text x="1961" y="219">10</text><text x="1961" y="272">1</text>
</g>
<g class="ax" style="font-size:13px">
<text x="2276" y="112">0.1</text><text x="2276" y="166">1</text><text x="2276" y="219">10</text><text x="2276" y="272">100</text>
</g>
<g class="ax" style="font-size:12.5px" text-anchor="middle">
<text x="1986" y="287">0.6</text><text x="2022" y="287">0.65</text><text x="2058" y="287">0.7</text><text x="2094" y="287">0.75</text><text x="2130" y="287">0.8</text><text x="2165" y="287">0.85</text><text x="2201" y="287">0.9</text><text x="2237" y="287">0.95</text><text x="2273" y="287">1</text>
</g>
<text class="ax" x="1938" y="188" transform="rotate(-90 1938 188)" text-anchor="middle" style="font-size:20px">cT/R<tspan font-size="14" dy="5">G</tspan></text>
<text class="ax" x="2300" y="188" transform="rotate(-90 2300 188)" text-anchor="middle" style="font-size:17px">f M/M⊙ [kHz]</text>
<text class="ax" x="2118" y="305" text-anchor="middle" style="font-size:20px">L∞/L<tspan font-size="14" dy="5">Edd</tspan></text>

<g transform="translate(1960,85) scale(0.33333)">
<rect x="15" y="18" width="922" height="530" fill="none" stroke="#444" stroke-width="1" vector-effect="non-scaling-stroke"/>
<g class="ln">
<polyline points="35,548 45,522 70,485 120,455 200,425 340,380 450,350 540,330 630,310 720,285 790,260 840,220 860,190 875,160 890,130 908,90 918,50 925,18"/>
<polyline points="312,548 318,510 325,480 345,455 400,420 470,385 535,352 610,325 680,300 750,278 810,252 845,215"/>
<polyline points="455,548 458,500 463,476 474,447 500,415 560,370 630,330 700,305 760,280 815,250 845,215"/>
<polyline points="545,548 548,480 555,448 566,420 600,375 650,335 688,313 740,290 790,268 825,245 845,215"/>
<polyline points="606,548 610,470 617,426 628,393 650,360 690,330 730,298 770,282 808,262 835,235 845,215"/>
<polyline points="652,548 655,460 660,406 676,372 700,345 730,315 760,285 790,270 820,248 845,215"/>
<polyline points="685,548 688,450 697,388 710,352 730,325 755,298 782,272 805,258 830,238 845,215"/>
<polyline points="712,548 715,440 725,372 740,332 760,305 780,285 797,262 815,250 838,230 845,215"/>
<polyline points="800,262 820,240 832,225 845,215"/>
</g>
<g fill="#1a8a1a">
<circle cx="35" cy="548" r="12"/><circle cx="318" cy="510" r="12"/><circle cx="463" cy="476" r="12"/><circle cx="555" cy="448" r="12"/><circle cx="617" cy="426" r="12"/><circle cx="660" cy="406" r="12"/><circle cx="697" cy="388" r="12"/><circle cx="725" cy="372" r="12"/><circle cx="908" cy="90" r="12"/>
</g>
<g fill="#1515ee">
<rect x="33" y="513" width="18" height="18"/><rect x="316" y="471" width="18" height="18"/><rect x="465" y="438" width="18" height="18"/><rect x="557" y="411" width="18" height="18"/><rect x="619" y="384" width="18" height="18"/><rect x="667" y="363" width="18" height="18"/><rect x="701" y="343" width="18" height="18"/><rect x="731" y="323" width="18" height="18"/><rect x="866" y="151" width="18" height="18"/>
</g>
<g stroke="#ee1111" stroke-width="6" fill="none">
<path d="M331,371 l18,18 M349,371 l-18,18"/><path d="M526,343 l18,18 M544,343 l-18,18"/><path d="M621,321 l18,18 M639,321 l-18,18"/><path d="M679,304 l18,18 M697,304 l-18,18"/><path d="M721,289 l18,18 M739,289 l-18,18"/><path d="M751,276 l18,18 M769,276 l-18,18"/><path d="M773,263 l18,18 M791,263 l-18,18"/><path d="M788,253 l18,18 M806,253 l-18,18"/>
</g>
<line x1="300" y1="352" x2="340" y2="380" class="ln" style="stroke-width:1"/>
<line x1="815" y1="290" x2="797" y2="262" class="ln" style="stroke-width:1"/>
<rect x="185" y="297" width="115" height="55" fill="#fff" stroke="#000" stroke-width="1.5" vector-effect="non-scaling-stroke"/>
<rect x="815" y="290" width="110" height="58" fill="#fff" stroke="#000" stroke-width="1.5" vector-effect="non-scaling-stroke"/>
<g class="ax" style="font-size:39px" text-anchor="middle">
<text x="242" y="338">5.383</text><text x="870" y="333">30.85</text>
</g>
<g class="ax" style="font-size:40px">
<text x="62" y="535">3</text><text x="332" y="540">4</text><text x="465" y="540">5</text><text x="555" y="540">6</text><text x="614" y="540">7</text><text x="656" y="540">8</text><text x="688" y="540">9</text><text x="718" y="540">10</text>
</g>
</g>

<!-- Fig 4 labels -->
<g class="ax" style="font-size:13px" text-anchor="end">
<text x="2366" y="119">0.2</text><text x="2366" y="162">0.5</text><text x="2366" y="199">1</text><text x="2366" y="235">2</text>
</g>
<g class="ax" style="font-size:12.5px" text-anchor="middle">
<text x="2392" y="287">0.6</text><text x="2428" y="287">0.65</text><text x="2463" y="287">0.7</text><text x="2499" y="287">0.75</text><text x="2535" y="287">0.8</text><text x="2571" y="287">0.85</text><text x="2606" y="287">0.9</text><text x="2642" y="287">0.95</text><text x="2678" y="287">1</text>
</g>
<text class="ax" x="2343" y="185" transform="rotate(-90 2343 185)" text-anchor="middle" style="font-size:18px">f [kHz]</text>
<text class="ax" x="2523" y="305" text-anchor="middle" style="font-size:20px">L∞/L<tspan font-size="14" dy="5">Edd</tspan></text>

<g transform="translate(2360,85) scale(0.33333)">
<rect x="25" y="18" width="930" height="540" fill="none" stroke="#444" stroke-width="1" vector-effect="non-scaling-stroke"/>
<g class="ln">
<polyline points="45,558 70,540 120,520 213,497 300,475 400,450 500,420 580,390 640,365 700,335 750,300 790,270 815,245 840,225 848,200 858,165 865,140 875,110 885,80 892,68 905,18"/>
<polyline points="322,558 335,540 360,515 400,490 457,468 520,445 583,420 640,390 700,355 750,318 790,285 820,255 840,225"/>
<polyline points="468,558 475,540 490,515 520,480 583,438 640,410 690,380 740,345 780,310 810,278 840,225"/>
<polyline points="560,558 565,520 575,490 610,455 658,408 700,385 745,350 785,315 812,283 840,225"/>
<polyline points="622,558 627,518 632,493 650,460 680,428 710,380 740,365 775,335 800,300 822,270 840,225"/>
<polyline points="665,558 670,495 683,460 700,430 722,405 747,355 770,340 795,310 818,280 840,225"/>
<polyline points="705,558 708,470 725,425 745,395 760,372 775,330 790,320 808,295 828,265 840,225"/>
<polyline points="730,558 737,445 750,410 760,383 778,355 795,308 808,295 825,270 840,242 845,220"/>
</g>
<g fill="#1a8a1a">
<circle cx="468" cy="553" r="12"/><circle cx="560" cy="538" r="12"/><circle cx="625" cy="518" r="12"/><circle cx="670" cy="497" r="12"/><circle cx="708" cy="470" r="12"/><circle cx="737" cy="445" r="12"/><circle cx="892" cy="68" r="12"/>
</g>
<g fill="#1515ee">
<rect x="313" y="549" width="18" height="18"/><rect x="461" y="534" width="18" height="18"/><rect x="556" y="511" width="18" height="18"/><rect x="623" y="484" width="18" height="18"/><rect x="674" y="451" width="18" height="18"/><rect x="716" y="416" width="18" height="18"/><rect x="751" y="371" width="18" height="18"/><rect x="831" y="209" width="18" height="18"/><rect x="839" y="186" width="18" height="18"/><rect x="844" y="166" width="18" height="18"/><rect x="849" y="141" width="18" height="18"/><rect x="853" y="131" width="18" height="18"/>
</g>
<g stroke="#ee1111" stroke-width="6" fill="none">
<path d="M204,488 l18,18 M222,488 l-18,18"/><path d="M448,459 l18,18 M466,459 l-18,18"/><path d="M574,429 l18,18 M592,429 l-18,18"/><path d="M649,399 l18,18 M667,399 l-18,18"/><path d="M701,371 l18,18 M719,371 l-18,18"/><path d="M738,346 l18,18 M756,346 l-18,18"/><path d="M766,321 l18,18 M784,321 l-18,18"/><path d="M786,299 l18,18 M804,299 l-18,18"/>
</g>
<g stroke="#999" stroke-width="1" fill="none">
<line x1="180" y1="478" x2="213" y2="497" vector-effect="non-scaling-stroke"/>
<line x1="395" y1="435" x2="457" y2="468" vector-effect="non-scaling-stroke"/>
<line x1="500" y1="395" x2="583" y2="438" vector-effect="non-scaling-stroke"/>
<line x1="600" y1="343" x2="658" y2="408" vector-effect="non-scaling-stroke"/>
<line x1="640" y1="277" x2="690" y2="330" vector-effect="non-scaling-stroke"/>
<line x1="843" y1="290" x2="795" y2="308" vector-effect="non-scaling-stroke"/>
<line x1="830" y1="340" x2="775" y2="330" vector-effect="non-scaling-stroke"/>
<line x1="795" y1="400" x2="760" y2="380" vector-effect="non-scaling-stroke"/>
</g>
<g fill="#fff" stroke="#999" stroke-width="1.3">
<rect x="80" y="435" width="100" height="43" vector-effect="non-scaling-stroke"/>
<rect x="285" y="397" width="110" height="38" vector-effect="non-scaling-stroke"/>
<rect x="400" y="357" width="100" height="38" vector-effect="non-scaling-stroke"/>
<rect x="510" y="305" width="102" height="38" vector-effect="non-scaling-stroke"/>
<rect x="565" y="237" width="97" height="40" vector-effect="non-scaling-stroke"/>
<rect x="843" y="250" width="97" height="40" vector-effect="non-scaling-stroke"/>
<rect x="830" y="325" width="95" height="40" vector-effect="non-scaling-stroke"/>
<rect x="795" y="390" width="98" height="38" vector-effect="non-scaling-stroke"/>
</g>
<g class="ax" style="font-size:30px" text-anchor="middle">
<text x="130" y="467">2.412</text><text x="340" y="426">5.064</text><text x="450" y="386">8.169</text><text x="561" y="334">11.54</text><text x="613" y="268">15.05</text><text x="891" y="280">25.93</text><text x="877" y="355">22.27</text><text x="844" y="419">18.64</text>
</g>
<g class="ax" style="font-size:40px">
<text x="150" y="552">3</text><text x="368" y="552">4</text><text x="492" y="552">5</text><text x="572" y="552">6</text><text x="630" y="552">7</text><text x="668" y="552">8</text><text x="700" y="552">9</text><text x="740" y="552">10</text>
</g>
</g>

<!-- ================= PAGE 4 ================= -->
<g transform="translate(2781,0)">
<text class="rh" x="253" y="68" textLength="417" lengthAdjust="spacingAndGlyphs">Maciej Wielgus et al.: Oscillations of the Eddington Capture Sphere</text>
<text class="t" x="86" y="101" textLength="364" lengthAdjust="spacingAndGlyphs">As a minor extension of the model, consider an accretion</text>
<text class="t" x="64" y="118" textLength="386" lengthAdjust="spacingAndGlyphs">rate that is varying on a timescale comparable to the period</text>
<text class="t" x="64" y="135" textLength="386" lengthAdjust="spacingAndGlyphs">of the ECS oscillator. Even strictly periodic variation of Ṁ₀</text>
<text class="t" x="64" y="152" textLength="386" lengthAdjust="spacingAndGlyphs">will lead to a decoherence of the ECS oscillation, because</text>
<text class="t" x="64" y="169" textLength="386" lengthAdjust="spacingAndGlyphs">the position r₀ of the ECS and (hence) the infall time from</text>
<text class="t" x="64" y="186" textLength="386" lengthAdjust="spacingAndGlyphs">the ECS, and (hence) the oscillator frequency, are strongly</text>
<text class="t" x="64" y="203" textLength="362" lengthAdjust="spacingAndGlyphs">varying functions of the luminosity, L₀ = ηṀ₀. Indeed,</text>
<!-- eq 8 -->
<g class="t" text-anchor="middle">
<text x="101" y="236">|δf|</text><text x="101" y="260">f</text>
<text x="124" y="248">=</text>
<text x="151" y="236">|δT|</text><text x="151" y="260">T</text>
<text x="176" y="248">=</text>
<text x="212" y="236">d ln T</text><text x="212" y="260">d ln L∞</text>
<text x="256" y="236">|δL∞|</text><text x="256" y="260">L∞</text>
<text x="284" y="248">=</text>
<text x="324" y="236">d ln T</text><text x="324" y="260">d ln L∞</text>
<text x="378" y="236">δṀ₀</text><text x="378" y="260">Ṁ₀</text>
</g>
<g stroke="#222" stroke-width="1">
<line x1="89" y1="243" x2="114" y2="243"/><line x1="137" y1="243" x2="165" y2="243"/><line x1="188" y1="243" x2="236" y2="243"/><line x1="239" y1="243" x2="274" y2="243"/><line x1="300" y1="243" x2="348" y2="243"/><line x1="363" y1="243" x2="393" y2="243"/>
<line x1="356" y1="222" x2="356" y2="266"/><line x1="398" y1="222" x2="398" y2="266"/>
</g>
<text class="t" x="403" y="248">.</text>
<text class="t" x="432" y="248">(8)</text>
<text class="t" x="64" y="291" textLength="253" lengthAdjust="spacingAndGlyphs">Thus, the Q factor of the oscillation is</text>
<!-- eq 9 -->
<text class="t" x="145" y="336">Q =</text>
<text class="t" x="180" y="323">f</text>
<text class="t" x="172" y="348">|δf|</text>
<line x1="170" y1="329" x2="196" y2="329" stroke="#222"/>
<text class="t" x="202" y="336">=</text>
<line x1="218" y1="310" x2="218" y2="355" stroke="#222"/>
<text class="t" x="226" y="323">Ṁ₀</text>
<text class="t" x="221" y="348">δṀ₀</text>
<line x1="221" y1="329" x2="250" y2="329" stroke="#222"/>
<line x1="254" y1="310" x2="254" y2="355" stroke="#222"/>
<text x="258" y="345" style="font-family:'Liberation Serif',serif;font-size:38px;fill:#222">(</text>
<text class="t" x="275" y="323">d ln T</text>
<text class="t" x="270" y="348">d ln L∞</text>
<line x1="268" y1="329" x2="318" y2="329" stroke="#222"/>
<text x="318" y="345" style="font-family:'Liberation Serif',serif;font-size:38px;fill:#222">)</text>
<text class="t" x="332" y="318" font-size="10">−1</text>
<text class="t" x="364" y="336">.</text>
<text class="t" x="432" y="336">(9)</text>
<text class="t" x="64" y="379" textLength="386" lengthAdjust="spacingAndGlyphs">We have indicated some values of the logarithmic derivative</text>
<text class="t" x="64" y="396" textLength="386" lengthAdjust="spacingAndGlyphs">d ln T/d ln L∞ in Figs. 3, 4. Comparing the figures, we see</text>
<text class="t" x="64" y="413" textLength="386" lengthAdjust="spacingAndGlyphs">that delayed emission (reaction time δt<tspan font-size="10">r</tspan> &gt; 0) at the stellar</text>
<text class="t" x="64" y="429" textLength="386" lengthAdjust="spacingAndGlyphs">surface acts as a low-pass filter, cutting out the highest</text>
<text class="t" x="64" y="446" textLength="386" lengthAdjust="spacingAndGlyphs">frequencies. At the same time it improves the quality factor</text>
<text class="t" x="64" y="463" textLength="107" lengthAdjust="spacingAndGlyphs">of the oscillator.</text>
<text class="t" x="86" y="479" textLength="364" lengthAdjust="spacingAndGlyphs">Accreting neutrons stars in low mass X-ray binaries are</text>
<text class="t" x="64" y="496" textLength="386" lengthAdjust="spacingAndGlyphs">expected to have a radius in the range of 4 to 7GM/c²</text>
<text class="t" x="64" y="513" textLength="386" lengthAdjust="spacingAndGlyphs">(Arnett &amp; Bowers, 1977, Kluźniak &amp; Wagoner, 1985), and</text>
<text class="t" x="64" y="530" textLength="386" lengthAdjust="spacingAndGlyphs">a mass of about two solar masses. It is seen from Fig. 4 that</text>
<text class="t" x="64" y="547" textLength="386" lengthAdjust="spacingAndGlyphs">the minimum values of the logarithmic derivative attained</text>
<text class="t" x="64" y="563" textLength="386" lengthAdjust="spacingAndGlyphs">for radii of 4, 5, 6, 7GM/c² are between 5 and 15. Hence,</text>
<text class="t" x="64" y="580" textLength="386" lengthAdjust="spacingAndGlyphs">the maximum expected value of the oscillator quality factor</text>
<text class="t" x="64" y="597" textLength="386" lengthAdjust="spacingAndGlyphs">would be Q ≈ 1/(10|δṀ₀/Ṁ₀|), occurring for frequencies</text>
<text class="t" x="64" y="612" textLength="368" lengthAdjust="spacingAndGlyphs">between about 1 and 2 kHz, as can be seen from Fig. 4.</text>
<text class="h" x="64" y="656" textLength="163" lengthAdjust="spacingAndGlyphs">5. Acknowledgements</text>
<text class="t" x="64" y="683" textLength="386" lengthAdjust="spacingAndGlyphs">Research supported in part by Polish NCN grants UMO-</text>
<text class="t" x="64" y="700" textLength="290" lengthAdjust="spacingAndGlyphs">2011/01/B/ST9/05439 and N N203 511238.</text>
<text x="64" y="745" textLength="74" lengthAdjust="spacingAndGlyphs" style="font-family:'Liberation Sans',sans-serif;font-size:14px;fill:#111">References</text>
<text class="f" x="64" y="769" textLength="380" lengthAdjust="spacingAndGlyphs">Abramowicz, M.A., Ellis, G.F.R. &amp; Lanza, A., 1990, Ap.J, 361, 470</text>
<text class="f" x="64" y="782" textLength="276" lengthAdjust="spacingAndGlyphs">Arnett, W. D., Bowers, R. L. 1977, ApJS 33, 415</text>
<text class="f" x="64" y="796" textLength="379" lengthAdjust="spacingAndGlyphs">Bini, D., Jantzen, R.T., Stella, L., 2009, Class. Q. Grav. 26, 055009</text>
<text class="f" x="64" y="810" textLength="281" lengthAdjust="spacingAndGlyphs">Kluźniak, W., Wagoner, R.V., 1985, ApJ 297, 548</text>
<text class="f" x="64" y="824" textLength="363" lengthAdjust="spacingAndGlyphs">Kluźniak, W., Michelson, P., Wagoner, R.V., 1990, ApJ 358, 538</text>
<text class="f" x="64" y="837" textLength="346" lengthAdjust="spacingAndGlyphs">Lin, D., Remillard, R.A., &amp; Homan, J., 2009 Ap.J., 696, 1257</text>
<text class="f" x="64" y="851" textLength="386" lengthAdjust="spacingAndGlyphs">Oh, J.S.; Hongsu, J.; &amp; Hyung, M.L., 2011, New Astronomy, 16, 183</text>
<text class="f" x="64" y="865" textLength="386" lengthAdjust="spacingAndGlyphs">Phinney, E.S., 1987, in <tspan font-style="italic">Superluminal Radio Sources</tspan>, ed. J.A. Zensus</text>
<text class="f" x="86" y="878" textLength="364" lengthAdjust="spacingAndGlyphs">and T.J. Pearson (Cambridge: Cambridge University Press),</text>
<text class="f" x="86" y="892" textLength="32" lengthAdjust="spacingAndGlyphs">p. 12.</text>
<text class="f" x="64" y="906" textLength="386" lengthAdjust="spacingAndGlyphs">Stahl, A., Wielgus, M., Abramowicz, M.A., Kluźniak W., &amp; Yu, W.</text>
<text class="f" x="86" y="919" textLength="224" lengthAdjust="spacingAndGlyphs">2012, A&amp;A, submitted, arXiv:1208.2231</text>
<text class="t" x="64" y="1197">4</text>
</g>
</svg>
</body></html>
